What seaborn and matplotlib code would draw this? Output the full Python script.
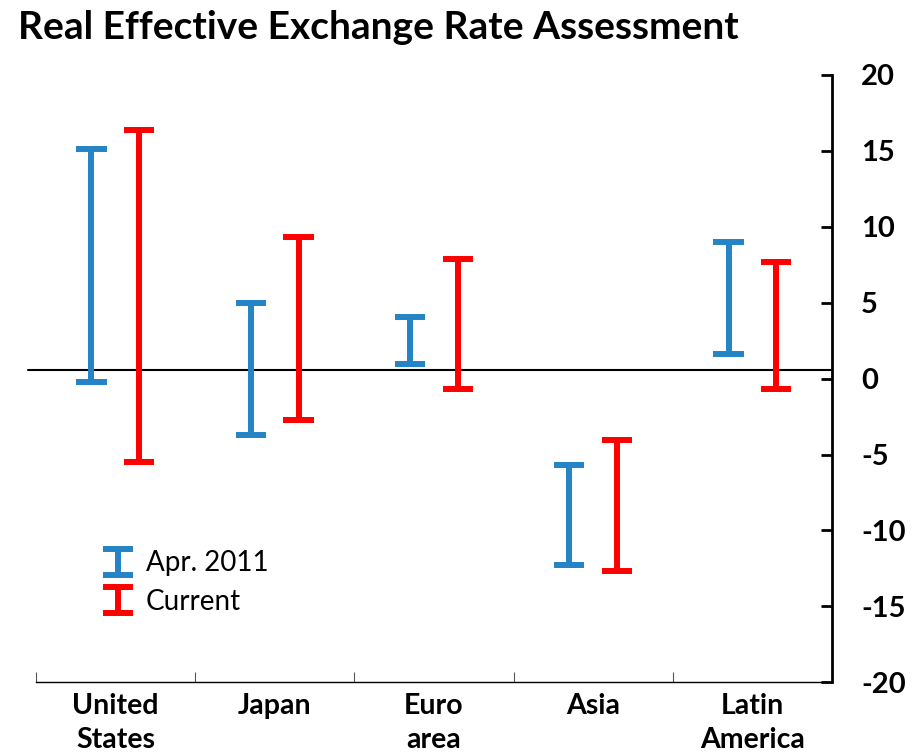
import numpy as np
import pandas as pd
import matplotlib
matplotlib.use("Agg")
import matplotlib.pyplot as plt
import seaborn as sns
from matplotlib.path import Path
from matplotlib.lines import Line2D

# Rangos de la evaluacion
regions = ["United\nStates", "Japan", "Euro\narea", "Asia", "Latin\nAmerica"]
series_names = ["Apr. 2011", "Current"]
apr_low = [-0.25, -3.7, 0.95, -12.25, 1.6]
apr_high = [15.1, 5.0, 4.05, -5.7, 9.0]
cur_low = [-5.5, -2.75, -0.65, -12.65, -0.7]
cur_high = [16.4, 9.3, 7.85, -4.05, 7.65]
ref_level = 0.6
y_ticks = [-20, -15, -10, -5, 0, 5, 10, 15, 20]

blue = "#2484c6"
red = "#ff0000"

# DataFrame largo: dos valores (min, max) por region y serie
rows = []
for i, r in enumerate(regions):
    rows.append({"region": r, "series": series_names[0], "value": apr_low[i]})
    rows.append({"region": r, "series": series_names[0], "value": apr_high[i]})
    rows.append({"region": r, "series": series_names[1], "value": cur_low[i]})
    rows.append({"region": r, "series": series_names[1], "value": cur_high[i]})
data = pd.DataFrame(rows)

sns.set_style("white")
plt.rcParams["font.family"] = ["Lato", "DejaVu Sans"]
plt.rcParams["axes.unicode_minus"] = False
for k in ["text.color", "xtick.color", "ytick.color", "axes.labelcolor"]:
    plt.rcParams[k] = "black"

fig = plt.figure(figsize=(9.21, 7.55), dpi=100)
ax = fig.add_axes([0.0388, 0.0963, 0.8646, 0.8044])

sns.pointplot(data=data, x="region", y="value", hue="series", order=regions,
              hue_order=series_names, palette=[blue, red],
              errorbar=("pi", 100), capsize=0.19, dodge=0.3,
              linestyle="none", markersize=0, legend=False,
              err_kws={"linewidth": 4.3, "solid_capstyle": "butt"}, ax=ax)

ax.axhline(ref_level, xmin=-0.01, xmax=1, color="black", linewidth=1.5, clip_on=False, zorder=1)

ax.set_xlim(-0.5, len(regions) - 0.5)
ax.set_ylim(-20, 20)
ax.set_xlabel("")
ax.set_ylabel("")

# eje y a la derecha
ax.yaxis.tick_right()
ax.set_yticks(y_ticks)
ax.tick_params(axis="y", direction="in", length=8, width=2, pad=21, labelsize=21)
for t in ax.get_yticklabels():
    t.set_fontweight("bold")
    t.set_horizontalalignment("left")

# eje x: etiquetas centradas, marcas en los limites
ax.set_xticks(range(len(regions)))
ax.set_xticklabels(regions, fontsize=20.5, fontweight="bold", linespacing=1.38)
ax.set_xticks(np.arange(-0.5, len(regions) - 0.5, 1), minor=True)
ax.tick_params(axis="x", which="major", bottom=True, length=0, pad=8)
ax.tick_params(axis="x", which="minor", bottom=True, direction="in", length=7, width=0.8,
               color="#555555")

for s in ["top", "left"]:
    ax.spines[s].set_visible(False)
ax.spines["right"].set_linewidth(2)
ax.spines["right"].set_color("black")
ax.spines["bottom"].set_linewidth(1)
ax.spines["bottom"].set_color("black")

# leyenda con simbolo de barra de rango
i_path = Path([(-0.6, 0.5), (0.6, 0.5), (0, 0.5), (0, -0.5), (-0.6, -0.5), (0.6, -0.5)],
              [Path.MOVETO, Path.LINETO, Path.MOVETO, Path.LINETO, Path.MOVETO, Path.LINETO])
handles = [Line2D([], [], linestyle="none", marker=i_path, markersize=22, markeredgewidth=4.3,
                  markeredgecolor=c, markerfacecolor="none", solid_capstyle="butt")
           for c in [blue, red]]
ax.legend(handles, series_names, loc="upper left", bbox_to_anchor=(0.065, 0.24), frameon=False,
          fontsize=20, handlelength=1.2, handletextpad=0.4, labelspacing=0.45, borderpad=0)

fig.text(0.02, 0.963, "Real Effective Exchange Rate Assessment", fontsize=28, fontweight="bold",
         va="center", ha="left")

plt.savefig("out.png", dpi=100)
